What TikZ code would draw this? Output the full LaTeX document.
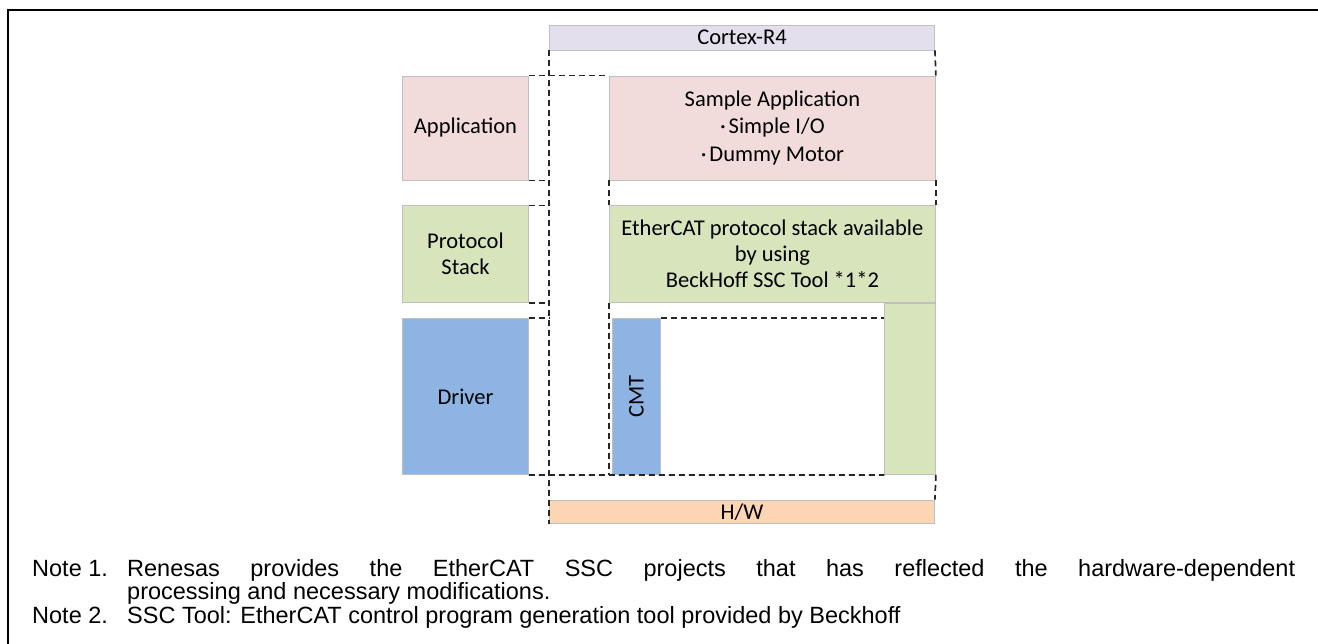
\documentclass[tikz,border=0pt]{standalone}
\usepackage{fontspec}
\setmainfont{Liberation Sans}
\newfontfamily\diagfont{Carlito}
\usetikzlibrary{positioning}
\definecolor{cpufill}{HTML}{E4DFEC}
\definecolor{appfill}{HTML}{F2DCDB}
\definecolor{stackfill}{HTML}{D8E4BC}
\definecolor{drvfill}{HTML}{8DB4E2}
\definecolor{hwfill}{HTML}{FCD5B4}
\definecolor{boxline}{HTML}{BFBFBF}

\begin{document}
\begin{tikzpicture}[x=1pt, y=-1pt,
    cpu/.style={rectangle, draw=boxline, line width=0.9pt, fill=cpufill, inner sep=0pt, font=\diagfont\fontsize{22.5}{26.5}\selectfont},
    app/.style={rectangle, draw=boxline, line width=0.9pt, fill=appfill, inner sep=0pt, font=\diagfont\fontsize{22.5}{27.5}\selectfont},
    stack/.style={rectangle, draw=boxline, line width=0.9pt, fill=stackfill, inner sep=0pt, font=\diagfont\fontsize{22.5}{26}\selectfont},
    drv/.style={rectangle, draw=boxline, line width=0.9pt, fill=drvfill, inner sep=0pt, font=\diagfont\fontsize{22.5}{26.5}\selectfont},
    hw/.style={rectangle, draw=boxline, line width=0.9pt, fill=hwfill, inner sep=0pt, font=\diagfont\fontsize{22.5}{26.5}\selectfont},
    outline/.style={draw=black!85, line width=1.7pt, dash pattern=on 6pt off 4pt},
    note/.style={inner sep=0pt, font=\fontsize{23.5}{23.5}\selectfont}
 ]
\useasboundingbox (0,0) rectangle (1318,644);

% frame
\draw[line width=2.4pt] (1318,10) -- (8,10) -- (8,644);

\node[cpu, minimum width=385pt, minimum height=25pt] (Cortex) at (742,37.5) {Cortex-R4};

\node[app, minimum width=126pt, minimum height=104pt] (AppLabel) at (465.5,128) {Application};
\node[app, align=center, minimum width=326pt, minimum height=104pt, right=80pt of AppLabel] (SampleApp) {Sample Application\\·\kern3pt Simple I/O\\·\kern3pt Dummy Motor};

\node[stack, align=center, minimum width=126pt, minimum height=96.7pt, below=25pt of AppLabel] (StackLabel) {Protocol\\Stack};
\node[stack, align=center, minimum width=326pt, minimum height=96.7pt, below=25pt of SampleApp] (StackBox) {EtherCAT protocol stack available\\by using\\BeckHoff SSC Tool *1*2};
\node[stack, minimum width=50.6pt, minimum height=171pt, below left=0pt and 0pt of StackBox.south east] (StackSide) {};

\node[drv, minimum width=126pt, minimum height=156.2pt, below=14.8pt of StackLabel] (Driver) {Driver};
\node[drv, minimum width=48.6pt, minimum height=156.2pt, below right=14.8pt and 2.8pt of StackBox.south west] (Cmt) {\rotatebox{90}{CMT}};

\node[hw, minimum width=385pt, minimum height=23.3pt] (HW) at (742,511.7) {H/W};

% dashed outline of the Cortex-R4 part
\draw[outline] (Cortex.south west) -- (HW.south west);
\draw[outline] (Cortex.south east) -- (SampleApp.north east);
\draw[outline] (SampleApp.south east) -- (StackBox.north east);
\draw[outline] (StackSide.south east) -- (HW.north east);
\draw[outline] (AppLabel.north east) -- (SampleApp.north west);
\draw[outline] (AppLabel.south east) -- (AppLabel.south east -| Cortex.west);
\draw[outline] (StackLabel.north east) -- (StackLabel.north east -| Cortex.west);
\draw[outline] (StackLabel.south east) -- (StackLabel.south east -| Cortex.west);
\draw[outline] (Driver.north east) -- (Driver.north east -| Cortex.west);
\draw[outline] (Driver.south east) -- (StackSide.south west);
\draw[outline] (SampleApp.south west) -- (StackBox.north west);
\draw[outline] (StackBox.south west) -- (StackBox.south west |- Driver.south);
\draw[outline] (Cmt.north east) -- (StackSide.west |- Cmt.north);

% notes
\node[note, anchor=base west] (Note1) at (32,576) {Note 1.};
\node[note, anchor=base west, text width=1168pt, align=justify] (Note1Text) at (127,576) {\tolerance=10000\hbadness=10000 Renesas provides the EtherCAT SSC projects that has reflected the hardware-dependent\linebreak processing and necessary modifications.};
\node[note, anchor=base west] (Note2) at (32,623) {Note 2.};
\node[note, anchor=base west] (Note2Text) at (127,623) {SSC Tool: EtherCAT control program generation tool provided by Beckhoff};

\end{tikzpicture}
\end{document}
